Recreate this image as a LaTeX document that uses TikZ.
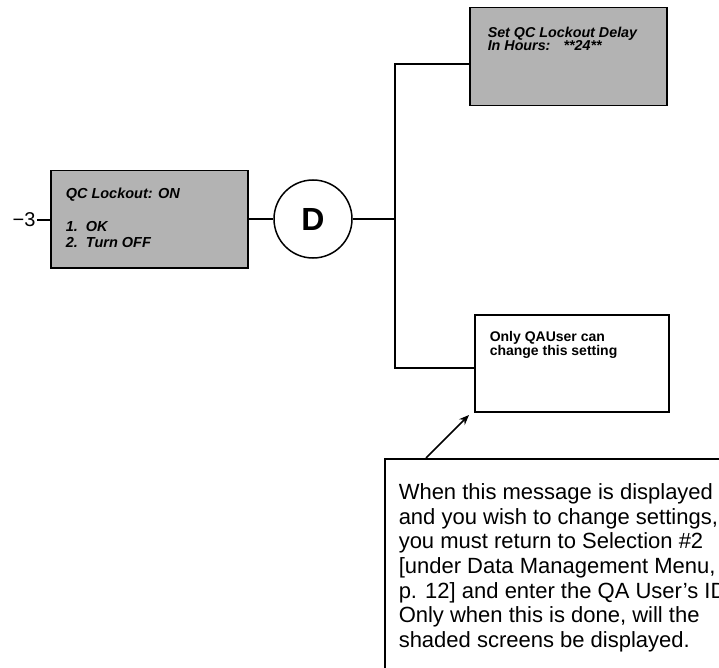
\documentclass[tikz,border=0pt]{standalone}
\usepackage{fontspec}
\setmainfont{Liberation Sans}
\usetikzlibrary{arrows.meta}
\definecolor{screengray}{RGB}{179,179,179}

\begin{document}
\begin{tikzpicture}[x=1pt,y=-1pt,line width=1.5pt,
    screen/.style={draw, fill=screengray, anchor=north west, inner sep=0pt},
    msgbox/.style={draw, fill=white, anchor=north west, inner sep=0pt},
    boxtext/.style={anchor=north west, inner sep=0pt, align=left}]
    \useasboundingbox (0,0) rectangle (719,668);
    % left screen and decision circle
    \node(three)[inner sep=1pt, font=\fontsize{20}{20}\selectfont] at (24,220) {−3};
    \node(lock)[screen, minimum width=197pt, minimum height=97pt] at (50,170) {};
    \node(locktxt)[boxtext, font=\fontsize{14.5}{16.5}\selectfont\bfseries\itshape] at (65,187.5) {QC Lockout: ON\\[16pt]1.\ \ OK\\2.\ \ Turn OFF};
    \node(D)[draw, shape=circle, minimum size=78pt, inner sep=0pt, font=\fontsize{32}{32}\selectfont\bfseries] at (313,219) {D};
    \draw (three) -- (lock.west |- three);
    \draw (lock.east |- D) -- (D);
    % branch to the two screens
    \node(delay)[screen, minimum width=197pt, minimum height=98pt] at (469,7) {};
    \node(delaytxt)[boxtext, font=\fontsize{14.3}{13}\selectfont\bfseries\itshape] at (487,26.6) {Set QC Lockout Delay\\In Hours:\hspace{13pt}**24**};
    \node(qa)[msgbox, minimum width=194pt, minimum height=97pt] at (474,314) {};
    \node(qatxt)[boxtext, font=\fontsize{14}{13}\selectfont\bfseries] at (489,331) {Only QAUser can\\change this setting};
    \coordinate(jtop) at (395,64);
    \coordinate(jbot) at (395,368);
    \draw (D) -- (D -| jtop);
    \draw (delay.west |- jtop) -- (jtop) -- (jbot) -- (qa.west |- jbot);
    % note with arrow
    \node(note)[draw, anchor=north west, minimum width=360pt, minimum height=240pt, inner sep=0pt] at (384,458) {};
    \node(notetxt)[boxtext, font=\fontsize{22}{24.6}\selectfont] at (398,483) {When this message is displayed\\and you wish to change settings,\\you must return to Selection \#2\\{[}under Data Management Menu,\\p. 12] and enter the QA User's ID\\Only when this is done, will the\\shaded screens be displayed.};
    \coordinate(tail) at (426,458);
    \coordinate(tip) at (469,415);
    \draw[-{Stealth[length=10pt,width=8pt]}] (tail) -- (tip);
\end{tikzpicture}
\end{document}
